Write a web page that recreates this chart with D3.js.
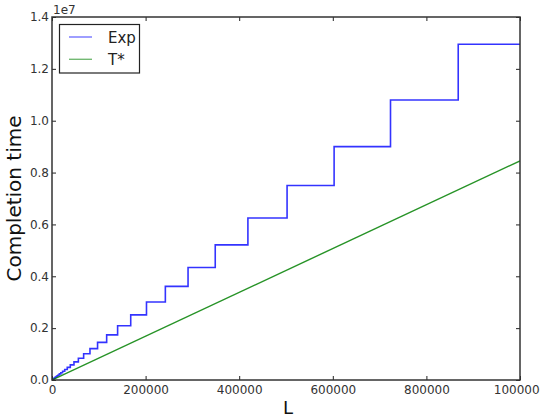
<!DOCTYPE html>
<head>
    <meta charset="utf-8">
    <title>Completion time</title>
    <style>
        body { margin: 0; background: #fff; }
        text { font-family: "DejaVu Sans", sans-serif; }
        .tick text { font-size: 12px; fill: #333; }
    </style>
</head>
<body>
<svg width="540" height="419"></svg>
<script src="https://d3js.org/d3.v7.min.js"></script>
<script>

// step positions (L) and completion time reached at each step
var expL = [0, 3660, 4390, 5270, 6320, 7580, 9100, 10920, 13100, 15720, 18870, 22640, 27170,
            32600, 39120, 46950, 56340, 67610, 81130, 97350, 116800, 140200, 168200,
            201900, 242200, 290700, 348800, 418600, 502300, 602800, 723300, 868000, 1000000];
var expT = [0, 54600, 65500, 78600, 94300, 113000, 136000, 163000, 195000, 235000, 282000, 338000, 405000,
            486000, 584000, 700000, 841000, 1010000, 1210000, 1450000, 1740000, 2090000, 2510000,
            3010000, 3610000, 4340000, 5210000, 6250000, 7500000, 9000000, 10800000, 12950000, 12950000];

var tStarL = [0, 1000000];
var tStarT = [0, 8450000];

var xTicks = [0, 200000, 400000, 600000, 800000, 1000000];
var yTicks = [0, 0.2e7, 0.4e7, 0.6e7, 0.8e7, 1.0e7, 1.2e7, 1.4e7];

var svg = d3.select("svg"),
    mLeft = 52, mRight = 520, mTop = 17, mBottom = 380;

var x = d3.scaleLinear().domain([0, 1000000]).range([mLeft, mRight]);
var y = d3.scaleLinear().domain([0, 1.4e7]).range([mBottom, mTop]);

var exp = expL.map(function(d, i) { return [d, expT[i]]; });
var tstar = tStarL.map(function(d, i) { return [d, tStarT[i]]; });

svg.append("defs").append("clipPath").attr("id", "clip")
    .append("rect").attr("x", mLeft).attr("y", mTop)
    .attr("width", mRight - mLeft).attr("height", mBottom - mTop);

var plot = svg.append("g").attr("clip-path", "url(#clip)");

plot.append("path")
    .datum(exp)
    .attr("fill", "none")
    .attr("stroke", "#0000ff")
    .attr("stroke-width", 1.6)
    .attr("stroke-opacity", 0.8)
    .attr("d", d3.line().curve(d3.curveStepAfter)
        .x(function(d) { return x(d[0]); })
        .y(function(d) { return y(d[1]); }));

plot.append("path")
    .datum(tstar)
    .attr("fill", "none")
    .attr("stroke", "#008000")
    .attr("stroke-width", 1.4)
    .attr("stroke-opacity", 0.85)
    .attr("d", d3.line()
        .x(function(d) { return x(d[0]); })
        .y(function(d) { return y(d[1]); }));

// axes, ticks pointing inward like matplotlib classic
var xAxis = svg.append("g").attr("transform", "translate(0," + mBottom + ")")
    .call(d3.axisBottom(x).tickValues(xTicks).tickSize(-4).tickPadding(5)
        .tickFormat(d3.format("d")));
var xTop = svg.append("g").attr("transform", "translate(0," + mTop + ")")
    .call(d3.axisTop(x).tickValues(xTicks).tickSize(-4).tickFormat(""));
var yAxis = svg.append("g").attr("transform", "translate(" + mLeft + ",0)")
    .call(d3.axisLeft(y).tickValues(yTicks).tickSize(-4).tickPadding(3)
        .tickFormat(function(d) { return (d / 1e7).toFixed(1); }));
var yRight = svg.append("g").attr("transform", "translate(" + mRight + ",0)")
    .call(d3.axisRight(y).tickValues(yTicks).tickSize(-4).tickFormat(""));

[xAxis, xTop, yAxis, yRight].forEach(function(a) {
    a.select(".domain").remove();
    a.selectAll(".tick line").attr("stroke", "#222");
});

svg.append("rect")
    .attr("x", mLeft).attr("y", mTop)
    .attr("width", mRight - mLeft).attr("height", mBottom - mTop)
    .attr("fill", "none").attr("stroke", "#333").attr("stroke-width", 1.5);

svg.append("text").attr("x", mLeft + 1).attr("y", mTop - 3)
    .attr("font-size", 12).attr("fill", "#333").text("1e7");

svg.append("text")
    .attr("x", (mLeft + mRight) / 2 + 2).attr("y", 414)
    .attr("text-anchor", "middle").attr("font-size", 18).attr("fill", "#111")
    .text("L");

svg.append("text")
    .attr("transform", "translate(21," + ((mTop + mBottom) / 2) + ") rotate(-90)")
    .attr("text-anchor", "middle").attr("font-size", 20).attr("fill", "#111")
    .text("Completion time");

// legend
var legend = svg.append("g");
legend.append("rect")
    .attr("x", 59.5).attr("y", 24.5).attr("width", 80).attr("height", 48.5)
    .attr("fill", "#fff").attr("stroke", "#222").attr("stroke-width", 1.2);

var items = [["Exp", "#0000ff"], ["T*", "#008000"]];
items.forEach(function(it, i) {
    var ly = 37 + i * 22.3;
    legend.append("line")
        .attr("x1", 69).attr("x2", 92).attr("y1", ly).attr("y2", ly)
        .attr("stroke", it[1]).attr("stroke-width", 1.4).attr("stroke-opacity", 0.55);
    legend.append("text")
        .attr("x", 108).attr("y", ly + 5.5)
        .attr("font-size", 15).attr("fill", "#222").text(it[0]);
});

</script>
</body>
</html>
